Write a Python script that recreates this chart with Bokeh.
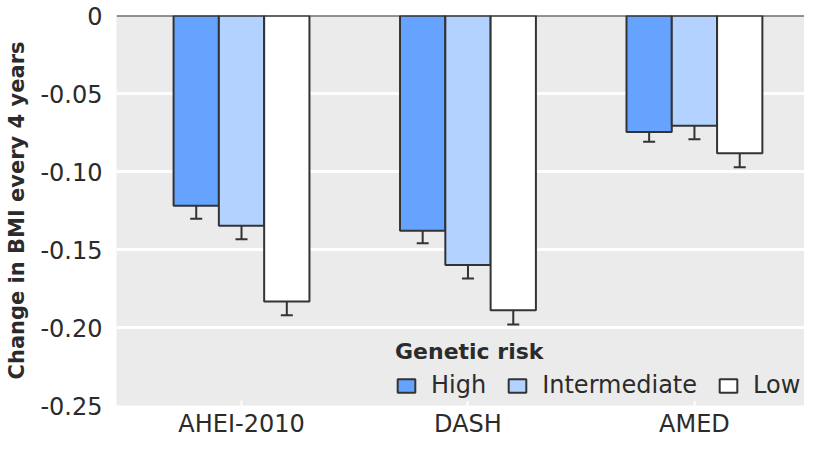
from bokeh.plotting import figure
from bokeh.models import (ColumnDataSource, Range1d, FixedTicker, Span, Whisker,
                          TeeHead, Legend, LegendItem)
from bokeh.embed import file_html
from bokeh.resources import INLINE

categories = ["AHEI-2010", "DASH", "AMED"]
risk_groups = ["High", "Intermediate", "Low"]
high = [-0.122, -0.138, -0.0747]
intermediate = [-0.1348, -0.160, -0.0706]
low = [-0.1833, -0.189, -0.0883]
high_err = [0.0083, 0.0080, 0.0062]
intermediate_err = [0.0087, 0.0086, 0.0087]
low_err = [0.0088, 0.0090, 0.0090]
y_ticks = [0, -0.05, -0.10, -0.15, -0.20, -0.25]
y_tick_labels = ["0", "-0.05", "-0.10", "-0.15", "-0.20", "-0.25"]

colors = ["#66a3ff", "#b3d2ff", "#ffffff"]
offsets = [-0.2, 0.0, 0.2]
FONT = "DejaVu Sans"
TXT = "#2b2b2b"

p = figure(width=804, height=440, output_backend="svg", toolbar_location=None,
           x_range=Range1d(-0.552, 2.486), y_range=Range1d(-0.25, 0.0),
           min_border_left=116, min_border_top=15, min_border_right=0,
           min_border_bottom=10)
p.background_fill_color = "#ebebeb"
p.border_fill_color = "white"
p.outline_line_color = None

p.xgrid.grid_line_color = None
p.ygrid.grid_line_color = "white"
p.ygrid.grid_line_width = 3
p.ygrid.ticker = FixedTicker(ticks=y_ticks)

renderers = []
for vals, errs, col, off in zip([high, intermediate, low],
                                [high_err, intermediate_err, low_err],
                                colors, offsets):
    xs = [i + off for i in range(len(categories))]
    src = ColumnDataSource(dict(x=xs, top=vals,
                                upper=[v + e for v, e in zip(vals, errs)],
                                lower=[v - e for v, e in zip(vals, errs)]))
    r = p.vbar(x="x", top="top", bottom=0, width=0.2, source=src,
               fill_color=col, line_color="#333333", line_width=2)
    renderers.append(r)
    w = Whisker(base="x", upper="upper", lower="lower", source=src,
                line_color="#333333", line_width=2,
                upper_head=TeeHead(size=12, line_color="#333333", line_width=2),
                lower_head=TeeHead(size=12, line_color="#333333", line_width=2))
    p.add_layout(w)

p.add_layout(Span(location=0, dimension="width", line_color="#333333", line_width=2))

# axes
p.yaxis.ticker = FixedTicker(ticks=y_ticks)
p.yaxis.major_label_overrides = {t: l for t, l in zip(y_ticks, y_tick_labels)}
p.yaxis.axis_line_color = None
p.yaxis.major_tick_line_color = None
p.yaxis.minor_tick_line_color = None
p.yaxis.major_label_text_font = FONT
p.yaxis.major_label_text_font_size = "24px"
p.yaxis.major_label_text_color = TXT
p.yaxis.major_label_standoff = 8
p.yaxis.axis_label = "Change in BMI every 4 years"
p.yaxis.axis_label_text_font = FONT
p.yaxis.axis_label_text_font_size = "21px"
p.yaxis.axis_label_text_font_style = "bold"
p.yaxis.axis_label_text_color = TXT
p.yaxis.axis_label_standoff = 8

p.xaxis.ticker = FixedTicker(ticks=[0, 1, 2])
p.xaxis.major_label_overrides = {i: c for i, c in enumerate(categories)}
p.xaxis.axis_line_color = None
p.xaxis.major_tick_line_color = "white"
p.xaxis.major_tick_line_width = 2
p.xaxis.major_tick_in = 5
p.xaxis.major_tick_out = 0
p.xaxis.minor_tick_line_color = None
p.xaxis.major_label_text_font = FONT
p.xaxis.major_label_text_font_size = "24px"
p.xaxis.major_label_text_color = TXT
p.xaxis.major_label_standoff = 4

legend = Legend(items=[LegendItem(label=g, renderers=[r]) for g, r in zip(risk_groups, renderers)],
                orientation="horizontal", title="Genetic risk",
                title_text_font=FONT, title_text_font_size="22px",
                title_text_font_style="bold", title_text_color=TXT,
                title_standoff=7,
                label_text_font=FONT, label_text_font_size="24px",
                label_text_color=TXT,
                background_fill_color="#ebebeb", background_fill_alpha=1.0,
                border_line_alpha=0, glyph_width=22, glyph_height=17,
                label_standoff=14, spacing=20, padding=2, margin=0,
                location=(277, 4))
p.add_layout(legend)

open("out.html", "w").write(file_html(p, INLINE))
